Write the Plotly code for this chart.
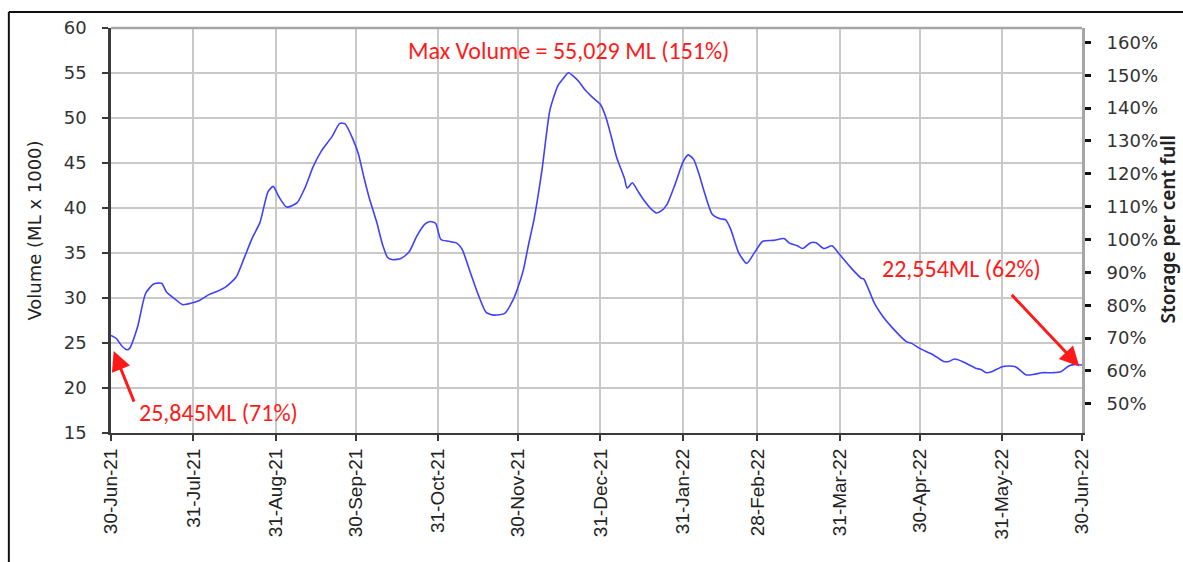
import datetime as dt
import plotly.graph_objects as go

# Daily storage volume (ML x 1000), sampled at the turning points of the record
dates = [
    "2021-06-30", "2021-07-02", "2021-07-04", "2021-07-06", "2021-07-07", "2021-07-10",
    "2021-07-13", "2021-07-16", "2021-07-19", "2021-07-21", "2021-07-24", "2021-07-27",
    "2021-08-02", "2021-08-06", "2021-08-09", "2021-08-12", "2021-08-16", "2021-08-19",
    "2021-08-22", "2021-08-25", "2021-08-28", "2021-08-30", "2021-09-01", "2021-09-04",
    "2021-09-08", "2021-09-11", "2021-09-14", "2021-09-17", "2021-09-21", "2021-09-24",
    "2021-09-26", "2021-09-29", "2021-10-01", "2021-10-03", "2021-10-05", "2021-10-08",
    "2021-10-10", "2021-10-12", "2021-10-14", "2021-10-17", "2021-10-20", "2021-10-23",
    "2021-10-26", "2021-10-28", "2021-10-30", "2021-11-01", "2021-11-04", "2021-11-07",
    "2021-11-09", "2021-11-12", "2021-11-15", "2021-11-18", "2021-11-21", "2021-11-25",
    "2021-11-28", "2021-11-30", "2021-12-02", "2021-12-04", "2021-12-06", "2021-12-09",
    "2021-12-12", "2021-12-15", "2021-12-17", "2021-12-19", "2021-12-21", "2021-12-23",
    "2021-12-25", "2021-12-28", "2021-12-31", "2022-01-02", "2022-01-04", "2022-01-06",
    "2022-01-09", "2022-01-10", "2022-01-12", "2022-01-14", "2022-01-16", "2022-01-19",
    "2022-01-21", "2022-01-23", "2022-01-25", "2022-01-28", "2022-01-31", "2022-02-02",
    "2022-02-04", "2022-02-06", "2022-02-08", "2022-02-11", "2022-02-14", "2022-02-16",
    "2022-02-18", "2022-02-21", "2022-02-24", "2022-02-27", "2022-03-02", "2022-03-06",
    "2022-03-10", "2022-03-12", "2022-03-15", "2022-03-17", "2022-03-20", "2022-03-22",
    "2022-03-25", "2022-03-28", "2022-03-31", "2022-04-04", "2022-04-08", "2022-04-09",
    "2022-04-13", "2022-04-16", "2022-04-20", "2022-04-25", "2022-04-27", "2022-04-30",
    "2022-05-05", "2022-05-09", "2022-05-11", "2022-05-13", "2022-05-16", "2022-05-21",
    "2022-05-23", "2022-05-25", "2022-05-27", "2022-05-31", "2022-06-02", "2022-06-05",
    "2022-06-09", "2022-06-12", "2022-06-15", "2022-06-19", "2022-06-22", "2022-06-25",
    "2022-06-27", "2022-06-30",
]
volume = [
    25.845, 25.5, 24.7, 24.25, 24.4, 26.8,
    30.5, 31.55, 31.63, 30.6, 29.9, 29.26,
    29.7, 30.4, 30.75, 31.2, 32.3, 34.4,
    36.6, 38.4, 41.8, 42.4, 41.3, 40.1,
    40.6, 42.3, 44.6, 46.3, 47.9, 49.4,
    49.35, 47.6, 46.0, 43.5, 41.2, 38.3,
    36.0, 34.5, 34.25, 34.4, 35.1, 36.9,
    38.2, 38.5, 38.3, 36.5, 36.3, 36.1,
    35.4, 32.9, 30.4, 28.4, 28.1, 28.3,
    29.7, 31.2, 33.1, 36.0, 38.7, 44.2,
    50.9, 53.6, 54.4, 55.029, 54.6, 54.0,
    53.2, 52.3, 51.5, 50.1, 48.0, 45.7,
    43.3, 42.2, 42.8, 41.9, 41.0, 39.9,
    39.45, 39.7, 40.4, 42.6, 45.1, 45.9,
    45.4, 43.8, 41.8, 39.3, 38.8, 38.7,
    37.6, 35.0, 33.85, 35.1, 36.3, 36.4,
    36.6, 36.1, 35.8, 35.5, 36.15, 36.15,
    35.5, 35.8, 34.8, 33.4, 32.2, 32.1,
    29.4, 28.0, 26.6, 25.15, 24.96, 24.4,
    23.7, 22.95, 22.95, 23.22, 22.95, 22.2,
    22.05, 21.7, 21.8, 22.37, 22.44, 22.37,
    21.45, 21.52, 21.7, 21.7, 21.8, 22.45,
    22.6, 22.554,
]

capacity = 36.5  # ML x 1000 at 100 per cent full
tick_dates = [
    "2021-06-30", "2021-07-31", "2021-08-31", "2021-09-30", "2021-10-31", "2021-11-30",
    "2021-12-31", "2022-01-31", "2022-02-28", "2022-03-31", "2022-04-30", "2022-05-31",
    "2022-06-30",
]
tick_labels = [dt.date.fromisoformat(d).strftime("%d-%b-%y") for d in tick_dates]
pct_ticks = [50, 60, 70, 80, 90, 100, 110, 120, 130, 140, 150, 160]

start_vol, peak_vol, end_vol = volume[0], max(volume), volume[-1]
peak_date = dates[volume.index(peak_vol)]

def pct(v):
    return round(v / capacity * 100)

fig = go.Figure()
fig.add_trace(go.Scatter(
    x=dates, y=volume, mode="lines",
    line=dict(color="#4040ff", width=1.6, shape="spline", smoothing=0.6),
    hoverinfo="skip", showlegend=False,
))
# percent-full copy of the series on the right axis (invisible, keeps the axis live)
fig.add_trace(go.Scatter(
    x=dates, y=[v / capacity * 100 for v in volume], yaxis="y2", mode="lines",
    line=dict(width=0, color="rgba(0,0,0,0)"), hoverinfo="skip", showlegend=False,
))

grid = "#c9c9c9"
num_font = dict(family="DejaVu Sans, Verdana", size=18, color="#333")
fig.update_layout(
    width=1183, height=562,
    margin=dict(l=111, r=101, t=28, b=129),
    paper_bgcolor="white", plot_bgcolor="white",
    xaxis=dict(
        type="date", range=[tick_dates[0], tick_dates[-1]],
        tickvals=tick_dates, ticktext=tick_labels, tickangle=-90,
        tickfont=dict(family="Liberation Sans, Arial", size=19, color="#222"),
        showgrid=True, gridcolor=grid, gridwidth=1.5,
        showline=True, linecolor="#3a3a3a", linewidth=2,
        ticks="outside", ticklen=6, tickcolor="#3a3a3a", tickwidth=1.5,
        zeroline=False,
    ),
    yaxis=dict(
        range=[15, 60], dtick=5, tick0=15,
        tickfont=num_font, ticklabelstandoff=12,
        title=dict(text="Volume (ML x 1000)", standoff=18,
                   font=dict(family="DejaVu Sans, Verdana", size=18, color="#222")),
        showgrid=True, gridcolor=grid, gridwidth=1.5,
        showline=True, linecolor="#3a3a3a", linewidth=2.5,
        ticks="outside", ticklen=6, tickcolor="#3a3a3a", tickwidth=1.5,
        zeroline=False,
    ),
    yaxis2=dict(
        overlaying="y", side="right",
        range=[15 / capacity * 100, 60 / capacity * 100],
        tickvals=pct_ticks, ticktext=[f"{p}%" for p in pct_ticks],
        tickfont=num_font, ticklabelstandoff=12,
        showgrid=False, zeroline=False,
        showline=True, linecolor="#a6a6a6", linewidth=3,
        ticks="outside", ticklen=6, tickcolor="#111", tickwidth=3,
    ),
)

# chart border (top and left edges) and the plot's top edge
fig.add_shape(type="line", xref="paper", yref="paper", x0=-0.1052, x1=1.2, y0=1.0395, y1=1.0395,
              line=dict(color="#111", width=2))
fig.add_shape(type="line", xref="paper", yref="paper", x0=-0.1052, x1=-0.1052, y0=1.0395, y1=-0.5,
              line=dict(color="#111", width=2))
fig.add_shape(type="line", xref="paper", yref="paper", x0=0, x1=1, y0=1, y1=1,
              line=dict(color="#a6a6a6", width=2.5))

red = "#ff1a1a"
ann_font = dict(family="Calibri, Carlito, Roboto", size=24, color=red)
fig.add_annotation(x=peak_date, y=peak_vol, yshift=22, showarrow=False,
                   text=f"Max Volume = {peak_vol * 1000:,.0f} ML ({pct(peak_vol)}%)",
                   font=ann_font, yanchor="middle")
fig.add_annotation(x=dates[0], y=17.3, xshift=26, showarrow=False, xanchor="left",
                   text=f"{start_vol * 1000:,.0f}ML ({pct(start_vol)}%)", font=ann_font)
fig.add_annotation(x="2022-04-15", y=33.3, showarrow=False, xanchor="left",
                   text=f"{end_vol * 1000:,.0f}ML ({pct(end_vol)}%)", font=ann_font)

# arrows pointing at the first and last readings
fig.add_annotation(x="2021-07-01", y=24.1, ax=21, ay=52, text="", showarrow=True,
                   arrowhead=2, arrowsize=1.3, arrowwidth=3, arrowcolor=red)
fig.add_annotation(x="2022-06-29", y=22.4, ax=-69, ay=-73, text="", showarrow=True,
                   arrowhead=2, arrowsize=1.3, arrowwidth=3, arrowcolor=red)

fig.add_annotation(xref="paper", yref="paper", x=1.1035, y=0.504, xanchor="right",
                   text="Storage per cent full", textangle=-90, showarrow=False,
                   font=dict(family="Noto Sans", size=19, color="#222", weight=600))

fig.write_html("out.html")
